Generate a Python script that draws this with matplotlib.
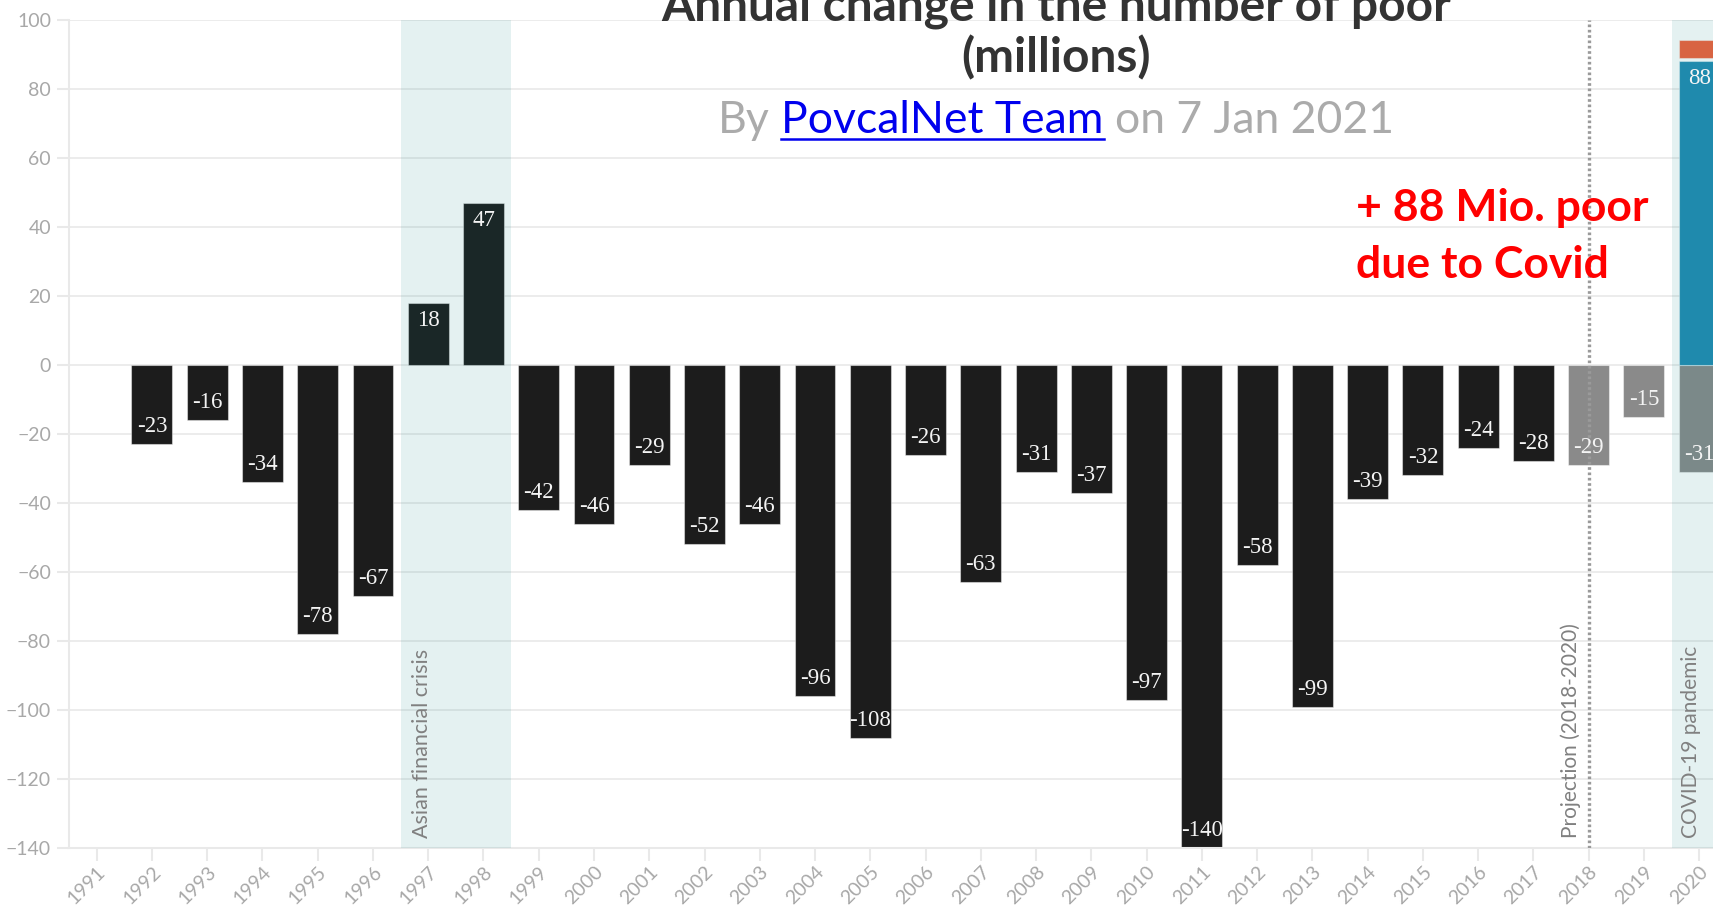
import numpy as np
import matplotlib
matplotlib.use("Agg")
import matplotlib.pyplot as plt
from matplotlib.lines import Line2D

plt.rcParams['font.family'] = ['Lato', 'DejaVu Sans']

years = list(range(1991, 2021))
# observed change (None = no bar)
change = [None, -23, -16, -34, -78, -67, 18, 47, -42, -46, -29, -52, -46, -96, -108,
          -26, -63, -31, -37, -97, -140, -58, -99, -39, -32, -24, -28]
proj_years = [2018, 2019, 2020]
proj_change = [-29, -15, -31]
covid_year = 2020
covid_poor = 88
covid_extra = 5

dark = '#1c1c1c'
grey_bar = '#8a8a8a'
teal = '#228bb2'
orange = '#f2603a'
tick_col = '#a8a8a8'
line_col = '#e9e9e9'
shade = '#0a8585'

fig = plt.figure(figsize=(17.13, 9.09), dpi=100)
ax = fig.add_axes([0.0403, 0.0671, 0.9597, 0.9112])

w = 0.74
obs_x = [y for y, v in zip(years, change) if v is not None]
obs_v = [v for v in change if v is not None]
ax.bar(obs_x, obs_v, width=w, color=dark, edgecolor=(1, 1, 1, 0.45), linewidth=0.8, zorder=2)
ax.bar(proj_years, proj_change, width=w, color=grey_bar, edgecolor=(1, 1, 1, 0.45), linewidth=0.8, zorder=2)
ax.bar([covid_year], [covid_poor], width=w, color=teal, edgecolor=(1, 1, 1, 0.45), linewidth=0.8, zorder=2)
ax.bar([covid_year], [covid_extra], bottom=[covid_poor + 1], width=w, color=orange,
       edgecolor=(1, 1, 1, 0.45), linewidth=0.8, zorder=2)

def label(x, v):
    off = 12.6 if v < 0 else -12.6
    ax.annotate(str(v), xy=(x, v), xytext=(0, off), textcoords='offset points',
                ha='center', va='center', color='#f4f4f4', fontsize=16.5,
                family='Liberation Serif', zorder=6)

for x, v in zip(obs_x, obs_v):
    label(x, v)
for x, v in zip(proj_years, proj_change):
    label(x, v)
label(covid_year, covid_poor)

# shaded periods drawn over the bars
ax.axvspan(1996.5, 1998.5, color=shade, alpha=0.11, lw=0, zorder=3)
ax.axvspan(2019.5, 2021, color=shade, alpha=0.11, lw=0, zorder=3)
ax.axvline(2018, color='#9a9a9a', lw=2.4, linestyle=(0, (0.8, 0.8)), zorder=4)

ax.text(1996.88, -137, 'Asian financial crisis', rotation=90, ha='center', va='bottom',
        color='#808080', fontsize=15.5, zorder=5)
ax.text(2017.67, -137, 'Projection (2018-2020)', rotation=90, ha='center', va='bottom',
        color='#808080', fontsize=15, zorder=5)
ax.text(2019.86, -137, 'COVID-19 pandemic', rotation=90, ha='center', va='bottom',
        color='#808080', fontsize=15, zorder=5)

ax.set_xlim(1990.5, 2020.25)
ax.set_ylim(-140, 100)
ax.set_yticks(range(-140, 101, 20))
ax.set_xticks(years)
ax.set_xticklabels([str(y) for y in years], rotation=45, ha='right', rotation_mode='anchor')
ax.grid(axis='y', color=line_col, lw=1.2)
ax.set_axisbelow(True)
for s in ['top', 'right']:
    ax.spines[s].set_visible(False)
for s in ['left', 'bottom']:
    ax.spines[s].set_color(line_col)
    ax.spines[s].set_linewidth(1.5)
ax.tick_params(axis='both', color=line_col, width=1.5, length=9, labelcolor=tick_col,
               labelsize=14, pad=4)
ax.tick_params(axis='x', labelsize=14, pad=2)

# title and byline
fig.text(0.6165, 0.9925, 'Annual change in the number of poor', ha='center', va='center',
         fontsize=34.5, fontweight='bold', color='#333333')
fig.text(0.6165, 0.936, '(millions)', ha='center', va='center',
         fontsize=34.5, fontweight='bold', color='#333333')

fig.canvas.draw()
r = fig.canvas.get_renderer()
sub_size = 32
sub_base = 1 - 133 / 909

def width_of(s):
    t = fig.text(0, 0, s, fontsize=sub_size)
    wd = t.get_window_extent(r).width
    t.remove()
    return wd

full = 'By PovcalNet Team on 7 Jan 2021'
w_full = width_of(full)
w1 = width_of('By P') - width_of('P')
w2 = width_of('By PovcalNet Team o') - width_of('o')
w_link = width_of('PovcalNet Team')
W = fig.bbox.width
x0 = 1056 - w_full / 2
fig.text(x0 / W, sub_base, 'By', fontsize=sub_size, color='#ababab', va='baseline')
fig.text((x0 + w1) / W, sub_base, 'PovcalNet Team', fontsize=sub_size, color='#0000ee', va='baseline')
fig.text((x0 + w2) / W, sub_base, 'on 7 Jan 2021', fontsize=sub_size, color='#ababab', va='baseline')
fig.add_artist(Line2D([(x0 + w1) / W, (x0 + w1 + w_link) / W], [sub_base - 6 / 909] * 2,
                      color='#0000ee', lw=1.8, transform=fig.transFigure))

fig.text(0.7916, 0.771, '+ 88 Mio. poor', ha='left', va='center', fontsize=32,
         fontweight='bold', color='#ff0000')
fig.text(0.7916, 0.7085, 'due to Covid', ha='left', va='center', fontsize=32,
         fontweight='bold', color='#ff0000')

fig.savefig('out.png', dpi=100)
